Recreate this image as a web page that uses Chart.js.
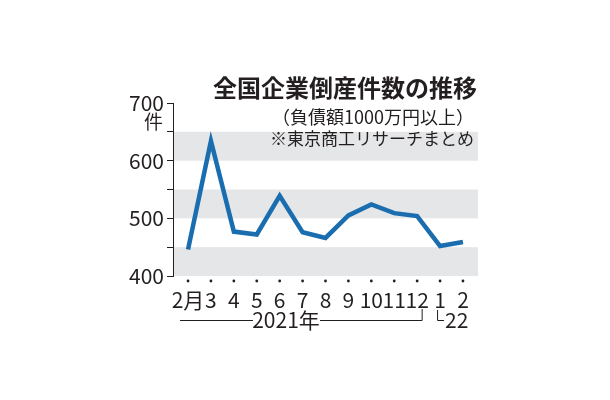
<!DOCTYPE html>
<html>
<head>
<meta charset="utf-8">
<script src="https://cdn.jsdelivr.net/npm/chart.js@4"></script>
<style>
  html, body { margin: 0; padding: 0; background: #fff; }
  #wrap { width: 610px; height: 400px; }
</style>
</head>
<body>
<div id="wrap"><canvas id="c" width="610" height="400"></canvas></div>
<script>
// ── Data ─────────────────────────────────────────────
const months = ['2月', '3', '4', '5', '6', '7', '8', '9', '10', '11', '12', '1', '2'];
const bankruptcies = [446, 634, 477, 472, 539, 476, 466, 505, 524, 509, 504, 452, 459];
const yTicks = [400, 500, 600, 700];
const grayBands = [[400, 450], [500, 550], [600, 650]];

const FONT_NUM = "'Liberation Sans Narrow', 'Noto Sans CJK JP', sans-serif";
const FONT_JP = "'Noto Sans CJK JP', sans-serif";
const INK = '#231f20';

// ── Bands, dots, year brackets, titles ───────────────
const decor = {
  id: 'decor',
  beforeDatasetsDraw(chart) {
    const { ctx, chartArea: { left, right }, scales: { y } } = chart;
    ctx.save();
    ctx.fillStyle = '#e5e6e7';
    grayBands.forEach(([lo, hi]) => {
      const top = y.getPixelForValue(hi);
      ctx.fillRect(left + 1, top, right - left - 1, y.getPixelForValue(lo) - top);
    });
    ctx.restore();
  },
  afterDraw(chart) {
    const { ctx, chartArea: { bottom }, scales: { x } } = chart;
    ctx.save();

    // small dots above month labels
    ctx.fillStyle = INK;
    months.forEach((_, i) => {
      ctx.beginPath();
      ctx.arc(x.getPixelForValue(i), bottom + 5, 1.4, 0, Math.PI * 2);
      ctx.fill();
    });

    // 2021年 bracket
    const yl = 320;
    const x12 = x.getPixelForValue(10) + 5;
    ctx.strokeStyle = INK;
    ctx.lineWidth = 1;
    ctx.beginPath();
    ctx.moveTo(180, yl + 0.5); ctx.lineTo(253, yl + 0.5);
    ctx.moveTo(320, yl + 0.5); ctx.lineTo(x12, yl + 0.5); ctx.lineTo(x12, 309);
    // └22
    const x1 = x.getPixelForValue(11) - 3;
    ctx.moveTo(x1 + 0.5, 310); ctx.lineTo(x1 + 0.5, yl + 0.5); ctx.lineTo(x1 + 7, yl + 0.5);
    ctx.stroke();

    ctx.fillStyle = INK;
    ctx.textBaseline = 'middle';
    ctx.font = `21px ${FONT_NUM}`;
    ctx.textAlign = 'center';
    ctx.fillText('2021年', 286, yl);
    ctx.textAlign = 'left';
    ctx.fillText('22', x1 + 8, yl);

    // unit under 700
    ctx.textAlign = 'right';
    ctx.font = `19px ${FONT_JP}`;
    ctx.fillText('件', 163, 122);

    // titles
    ctx.font = `bold 24px ${FONT_JP}`;
    ctx.fillText('全国企業倒産件数の推移', 477, 88);
    ctx.font = `18px ${FONT_JP}`;
    ctx.fillText('（負債額1000万円以上）', 474, 117);
    ctx.font = `17px ${FONT_JP}`;
    ctx.fillText('※東京商工リサーチまとめ', 474, 139);
    ctx.restore();
  }
};

new Chart(document.getElementById('c'), {
  type: 'line',
  data: {
    datasets: [{
      data: bankruptcies.map((v, i) => ({ x: i, y: v })),
      borderColor: '#1a6eaf',
      borderWidth: 4.5,
      borderJoinStyle: 'miter',
      tension: 0,
      pointRadius: 0,
      fill: false,
    }]
  },
  options: {
    responsive: false,
    animation: false,
    layout: { padding: { left: 0, right: 132, top: 103, bottom: 70 } },
    plugins: { legend: { display: false }, tooltip: { enabled: false } },
    scales: {
      x: {
        type: 'linear',
        min: -0.656,
        max: 12.656,
        afterBuildTicks: scale => { scale.ticks = months.map((_, i) => ({ value: i })); },
        afterFit: scale => { scale.height = 54; },
        grid: { display: false },
        border: { display: false },
        ticks: {
          color: INK,
          font: { family: FONT_NUM, size: 21 },
          padding: 3,
          maxRotation: 0,
          autoSkip: false,
          callback: v => months[v],
        }
      },
      y: {
        min: 400,
        max: 700,
        afterFit: scale => { scale.width = 173; },
        grid: { drawOnChartArea: false, tickLength: 6, color: INK, lineWidth: 1 },
        border: { display: true, color: INK, width: 1 },
        ticks: {
          stepSize: 50,
          color: INK,
          padding: 3,
          font: { family: FONT_NUM, size: 21 },
          callback: v => (yTicks.includes(v) ? String(v) : ''),
        }
      }
    }
  },
  plugins: [decor]
});
</script>
</body>
</html>
